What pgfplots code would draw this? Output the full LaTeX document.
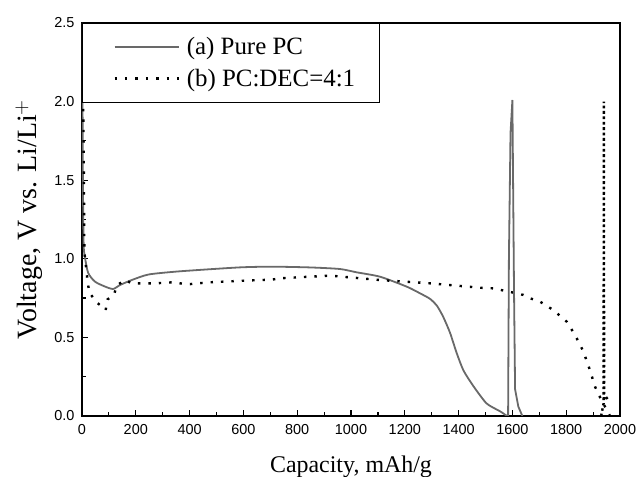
\documentclass[border=0pt]{standalone}
\usepackage{fontspec}
\setmainfont{Liberation Serif}
\newfontfamily\arialfont{Liberation Sans}
\usepackage{pgfplots}
\pgfplotsset{compat=1.18}
\definecolor{solidgray}{RGB}{105,105,105}
\begin{document}
\begin{tikzpicture}
\path[use as bounding box] (-82bp,-61bp) rectangle (556bp,416bp);
\begin{axis}[at={(0,0)}, anchor=south west, scale only axis, width=538bp, height=393bp,
 xmin=0, xmax=2000, ymin=0, ymax=2.5,
 xtick={0,200,...,2000}, minor x tick num=1,
 ytick={0,0.5,...,2.5}, minor y tick num=1,
 tick pos=left, tick align=inside, major tick length=6bp, minor tick length=4bp,
 axis line style={line width=1.6bp},
 every tick/.style={line width=1.2bp, black},
 /pgf/number format/assume math mode=true, /pgf/number format/1000 sep={},
 yticklabel style={/pgf/number format/fixed,/pgf/number format/precision=1,/pgf/number format/fixed zerofill, xshift=-4bp},
 xticklabel style={yshift=-5bp},
 tick label style={font=\arialfont\fontsize{14.5}{14.5}\selectfont},
 xlabel={Capacity, mAh/g}, ylabel={Voltage, V vs. Li/Li$^{+}$},
 every axis x label/.style={at={(axis description cs:0.5,-0.1425)}, anchor=base, font=\fontsize{24}{26}\selectfont},
 every axis y label/.style={at={(axis description cs:-0.0855,0.5)}, rotate=90, anchor=base, font=\fontsize{28}{30}\selectfont},
 legend style={at={(0,1)}, anchor=north west, draw=black, line width=0.8bp, fill=white,
   font=\fontsize{25}{27}\selectfont, inner xsep=4bp, inner ysep=12bp, row sep=9bp},
 legend cell align=left,
 legend image code/.code={\path (0bp,0bp); \path (96bp,0bp); \draw[#1] (27bp,0bp) -- (91bp,0bp);},
]
\addplot[color=solidgray, line width=1.8bp, smooth, tension=0.4] coordinates {
(1,2.5) (3,1.6) (6,1.1) (11,1.01) (23,0.91) (48,0.855) (86,0.823) (116,0.808) (141,0.833)
(185,0.865) (247,0.90) (346,0.918) (470,0.933) (594,0.946) (705,0.95) (850,0.945) (959,0.935)
(1021,0.914) (1108,0.886) (1207,0.823) (1257,0.78) (1294,0.745) (1320,0.70) (1343,0.63)
(1368,0.53) (1393,0.40) (1418,0.29) (1455,0.19) (1504,0.08) (1554,0.03) (1580,0.0)
};
\addlegendentry{(a) Pure PC}
\addplot[black, line width=2.4bp, dash pattern=on 2.4bp off 8bp] coordinates {
(3,2.35) (5,1.9) (7,1.5) (9,1.04) (21,0.854) (27,0.785) (55,0.723) (88,0.674) (95,0.742)
(110,0.76) (120,0.776) (129,0.83) (160,0.865) (185,0.844) (222,0.844) (271,0.844) (333,0.85)
(395,0.838) (470,0.85) (556,0.857) (631,0.863) (705,0.867) (736,0.876) (922,0.893) (1108,0.865)
(1294,0.844) (1480,0.816) (1529,0.812) (1603,0.785) (1641,0.77) (1665,0.749) (1703,0.727)
(1752,0.674) (1802,0.60) (1833,0.515) (1864,0.41) (1888,0.293) (1907,0.187) (1926,0.119)
(1944,0.06) (1963,0.0)
};
\addlegendentry{(b) PC:DEC=4:1\hspace*{18bp}\mbox{}}
\addplot[color=solidgray, line width=1.8bp, forget plot] coordinates {
(1580,0.0) (1584,0.0) (1587,1.0) (1593,1.8) (1600,2.01) (1603,1.4) (1606,0.8) (1610,0.17) (1622,0.06) (1637,0.0)
};
\addplot[black, line width=2.4bp, dash pattern=on 2.4bp off 3bp, forget plot] coordinates {
(1930,0.0) (1939,0.08) (1940,2.0) (1941,0.1) (1962,0.13)
};
\end{axis}
\end{tikzpicture}
\end{document}
